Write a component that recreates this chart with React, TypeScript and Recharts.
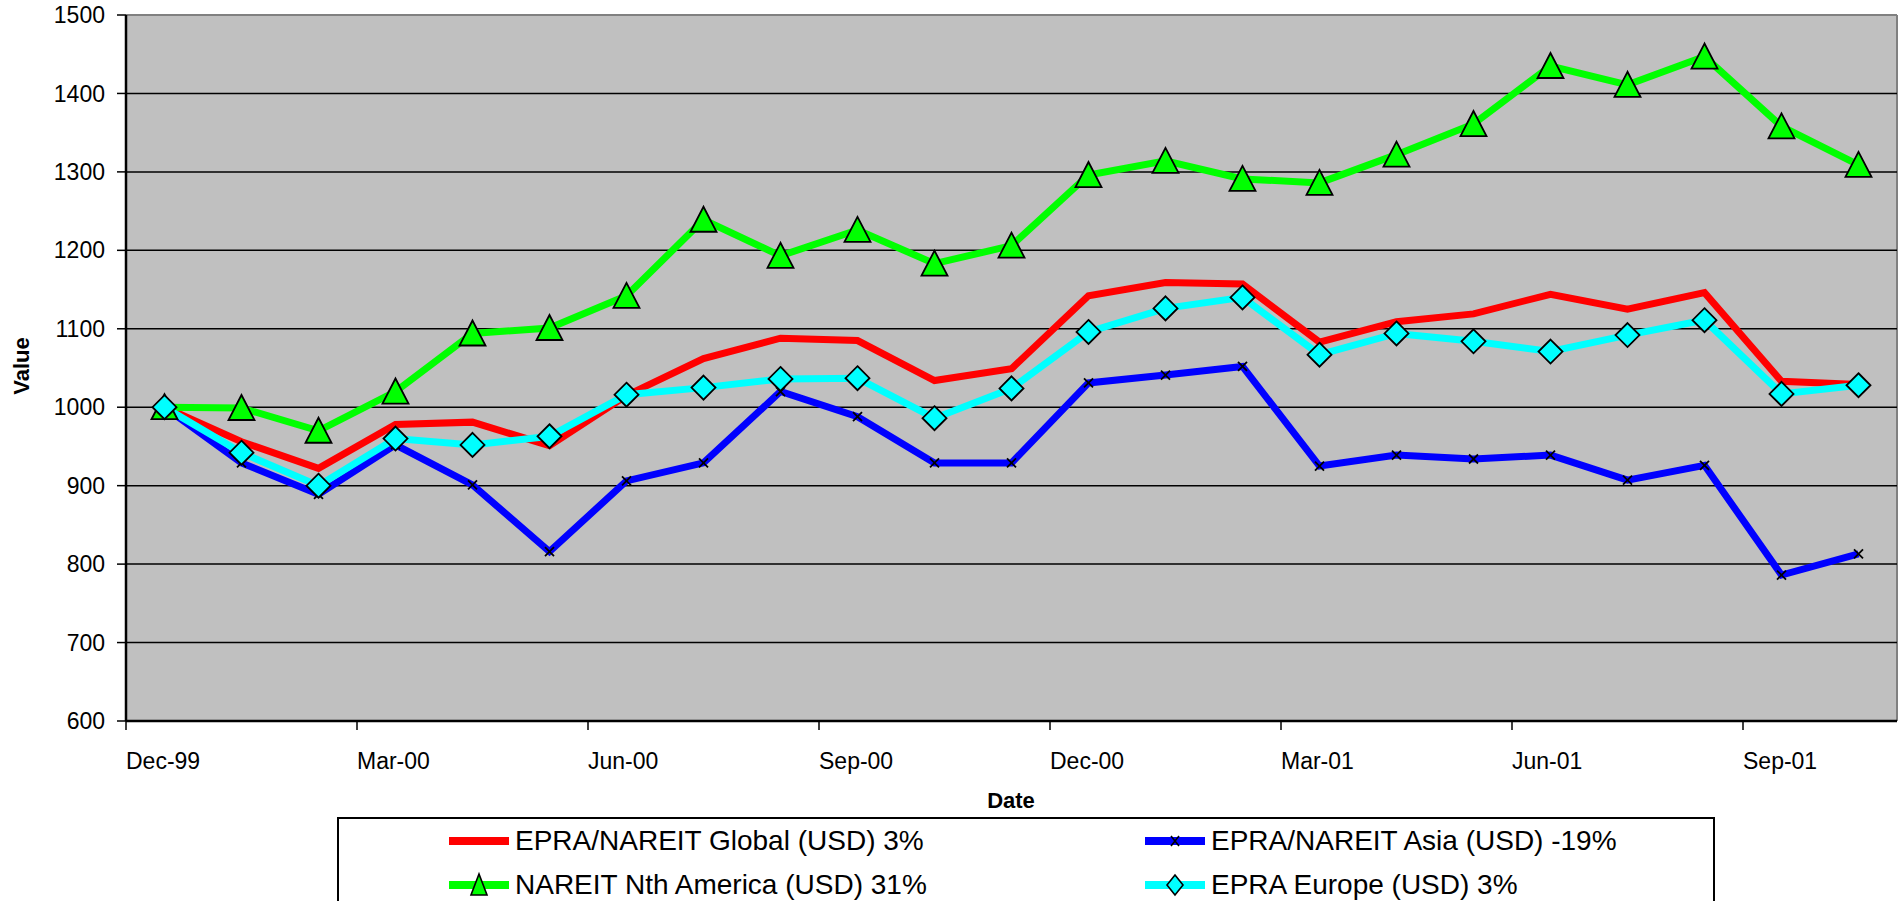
import React from "react";
import { LineChart, Line, XAxis, YAxis, CartesianGrid } from "recharts";

const FONT = '"Liberation Sans", Arial, sans-serif';

// month slots on the date axis; each point sits in the middle of its month
const months = [
  "Dec-99", "Jan-00", "Feb-00", "Mar-00", "Apr-00", "May-00", "Jun-00", "Jul-00",
  "Aug-00", "Sep-00", "Oct-00", "Nov-00", "Dec-00", "Jan-01", "Feb-01", "Mar-01",
  "Apr-01", "May-01", "Jun-01", "Jul-01", "Aug-01", "Sep-01", "Oct-01",
];

const globalUsd = [
  1000, 956, 922, 978, 981, 951, 1015, 1062, 1088, 1085, 1034, 1049,
  1142, 1159, 1157, 1083, 1109, 1119, 1144, 1125, 1146, 1033, 1029,
];
const asiaUsd = [
  1000, 929, 889, 952, 901, 816, 906, 929, 1020, 988, 929, 929,
  1031, 1041, 1052, 925, 939, 934, 939, 907, 926, 786, 813,
];
const nthAmericaUsd = [
  1000, 999, 970, 1020, 1094, 1101, 1142, 1239, 1193, 1226, 1183, 1206,
  1296, 1314, 1291, 1286, 1322, 1361, 1435, 1411, 1447, 1358, 1309,
];
const europeUsd = [
  1000, 942, 900, 960, 952, 963, 1016, 1025, 1036, 1037, 986, 1024,
  1096, 1126, 1140, 1067, 1094, 1084, 1071, 1092, 1111, 1017, 1028,
];

const xTicks = [0, 3, 6, 9, 12, 15, 18, 21];
const yTicks = [600, 700, 800, 900, 1000, 1100, 1200, 1300, 1400, 1500];
const innerGrid = [700, 800, 900, 1000, 1100, 1200, 1300, 1400];

const series = [
  { key: "global", name: "EPRA/NAREIT Global (USD) 3%", color: "#FF0000", marker: "none" },
  { key: "asia", name: "EPRA/NAREIT Asia (USD) -19%", color: "#0000FF", marker: "cross" },
  { key: "nam", name: "NAREIT Nth America (USD) 31%", color: "#00FF00", marker: "triangle" },
  { key: "europe", name: "EPRA Europe (USD) 3%", color: "#00FFFF", marker: "diamond" },
];

const data = months.map((m, i) => ({
  month: m,
  slot: i + 0.5,
  global: globalUsd[i],
  asia: asiaUsd[i],
  nam: nthAmericaUsd[i],
  europe: europeUsd[i],
}));

function Marker({ kind, cx, cy, fill, size }: any) {
  if (cx == null || cy == null) return null;
  const h = size / 2;
  if (kind === "triangle") {
    return (
      <polygon
        points={`${cx},${cy - h} ${cx - h},${cy + h - 1} ${cx + h},${cy + h - 1}`}
        fill={fill}
        stroke="#000"
        strokeWidth={1.8}
      />
    );
  }
  if (kind === "diamond") {
    return (
      <polygon
        points={`${cx},${cy - h} ${cx + h},${cy} ${cx},${cy + h} ${cx - h},${cy}`}
        fill={fill}
        stroke="#000"
        strokeWidth={1.8}
      />
    );
  }
  if (kind === "cross") {
    const c = 4.5;
    return (
      <path
        d={`M${cx - c},${cy - c}L${cx + c},${cy + c}M${cx + c},${cy - c}L${cx - c},${cy + c}`}
        stroke="#000"
        strokeWidth={1.8}
      />
    );
  }
  return null;
}

function dotFor(kind: string, color: string) {
  if (kind === "none") return false;
  const size = kind === "cross" ? 9 : kind === "triangle" ? 26 : 24;
  return (p: any) => (
    <Marker key={`${kind}-${p.index}`} kind={kind} cx={p.cx} cy={p.cy} fill={color} size={size} />
  );
}

function DateTick({ x, y, payload }: any) {
  return (
    <text
      x={x}
      y={y + 29}
      textAnchor="start"
      dominantBaseline="central"
      fontSize={23}
      fontFamily={FONT}
      fill="#000"
    >
      {months[payload.value]}
    </text>
  );
}

function LegendItem({ s }: any) {
  return (
    <div style={{ display: "flex", alignItems: "center", height: 44 }}>
      <svg width={66} height={30} style={{ display: "block" }}>
        <line x1={0} y1={15} x2={60} y2={15} stroke={s.color} strokeWidth={8} />
        {s.marker === "triangle" && (
          <polygon points="30,4 22,25 38,25" fill={s.color} stroke="#000" strokeWidth={1.6} />
        )}
        {s.marker === "diamond" && (
          <polygon points="30,5 38,15 30,25 22,15" fill={s.color} stroke="#000" strokeWidth={1.6} />
        )}
        {s.marker === "cross" && (
          <path d="M26,10L34,20M34,10L26,20" stroke="#000" strokeWidth={1.6} />
        )}
      </svg>
      <span style={{ fontSize: 28, whiteSpace: "nowrap" }}>{s.name}</span>
    </div>
  );
}

export default function App() {
  return (
    <div
      style={{
        position: "absolute",
        left: 0,
        top: 0,
        width: 1903,
        height: 901,
        background: "#fff",
        fontFamily: FONT,
        overflow: "hidden",
      }}
    >
      <LineChart
        width={1903}
        height={901}
        data={data}
        margin={{ top: 15, right: 6, left: 0, bottom: 150 }}
      >
        <CartesianGrid
          fill="#C0C0C0"
          fillOpacity={1}
          stroke="#808080"
          strokeWidth={2}
          horizontalValues={[1500]}
          verticalValues={[23]}
        />
        <CartesianGrid
          vertical={false}
          horizontalValues={innerGrid}
          stroke="#000"
          strokeWidth={1.5}
        />
        <XAxis
          type="number"
          dataKey="slot"
          domain={[0, 23]}
          ticks={xTicks}
          interval={0}
          height={30}
          tick={<DateTick />}
          tickSize={9}
          tickMargin={2}
          axisLine={{ stroke: "#000", strokeWidth: 2.5 }}
          tickLine={{ stroke: "#000", strokeWidth: 1.5 }}
        />
        <YAxis
          type="number"
          domain={[600, 1500]}
          ticks={yTicks}
          interval={0}
          width={126}
          tickSize={9}
          tickMargin={12}
          tick={{ fontSize: 23, fill: "#000", fontFamily: FONT }}
          axisLine={{ stroke: "#000", strokeWidth: 2.5 }}
          tickLine={{ stroke: "#000", strokeWidth: 1.5 }}
        />
        {series.map((s) => (
          <Line
            key={s.key}
            type="linear"
            dataKey={s.key}
            name={s.name}
            stroke={s.color}
            strokeWidth={7}
            dot={dotFor(s.marker, s.color) as any}
            activeDot={false}
            isAnimationActive={false}
          />
        ))}
      </LineChart>

      <div
        style={{
          position: "absolute",
          left: 0,
          top: 351,
          width: 44,
          height: 30,
          transform: "rotate(-90deg)",
          transformOrigin: "22px 15px",
          textAlign: "center",
          fontWeight: "bold",
          fontSize: 22,
          lineHeight: "30px",
        }}
      >
        <span style={{ display: "inline-block", width: 80, marginLeft: -18 }}>Value</span>
      </div>
      <div
        style={{
          position: "absolute",
          left: 911,
          width: 200,
          top: 787,
          textAlign: "center",
          fontWeight: "bold",
          fontSize: 22,
          lineHeight: "28px",
        }}
      >
        Date
      </div>

      <div
        style={{
          position: "absolute",
          left: 337,
          top: 817,
          width: 1378,
          height: 120,
          border: "2px solid #000",
          boxSizing: "border-box",
          background: "#fff",
        }}
      >
        <div style={{ position: "absolute", left: 110, top: 0 }}>
          <LegendItem s={series[0]} />
          <LegendItem s={series[2]} />
        </div>
        <div style={{ position: "absolute", left: 806, top: 0 }}>
          <LegendItem s={series[1]} />
          <LegendItem s={series[3]} />
        </div>
      </div>
    </div>
  );
}
